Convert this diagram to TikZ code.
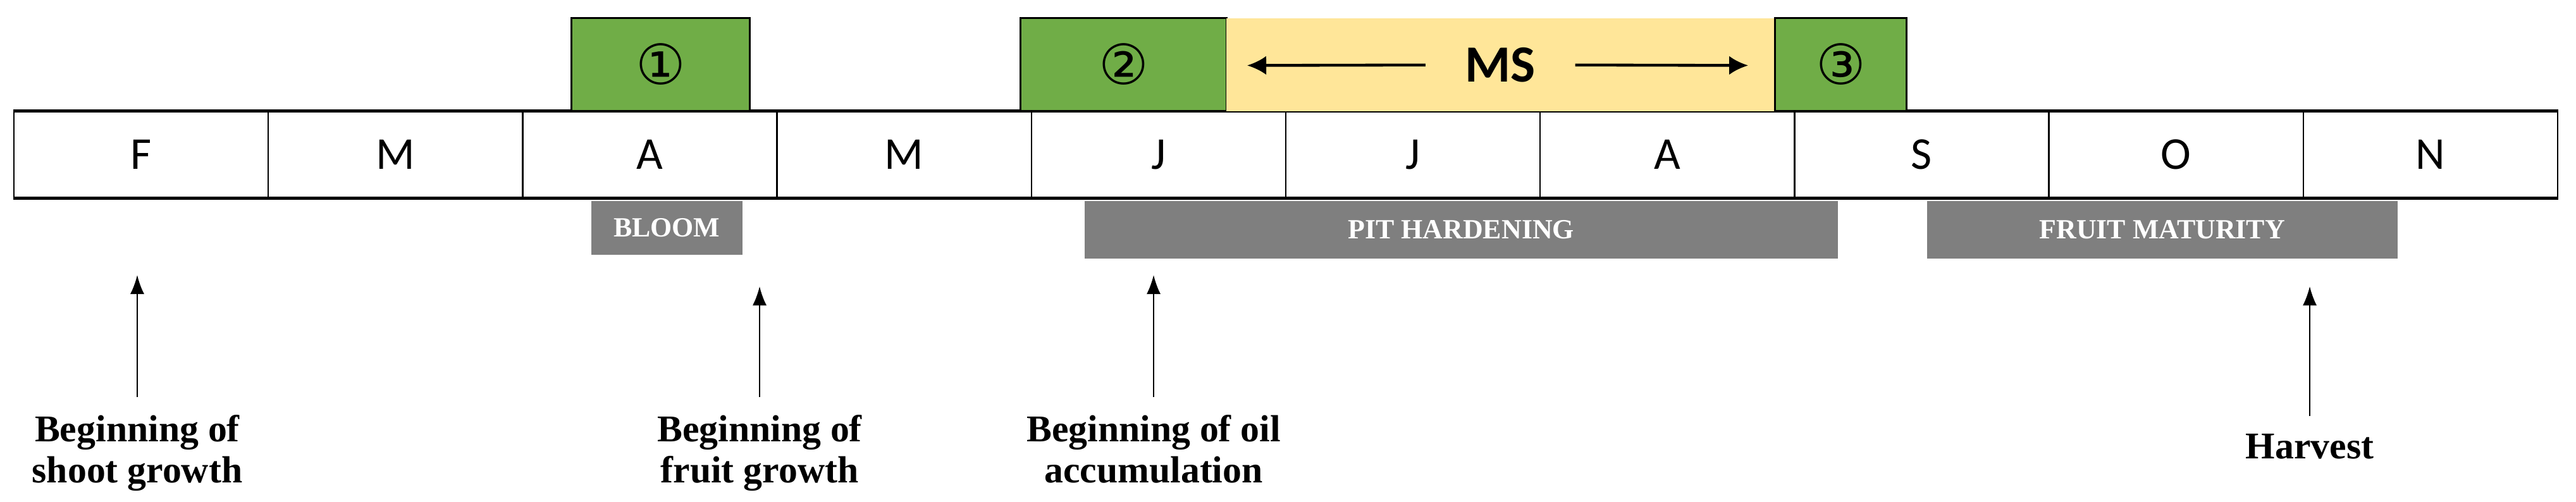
\documentclass[tikz,border=0pt]{standalone}
\usepackage{fontspec}
\setmainfont{Liberation Serif}
\setsansfont{Carlito}
\newfontfamily\circfont{DejaVu Sans}
\usepackage{xcolor}
\usepackage{tikz}
\usetikzlibrary{arrows.meta, positioning}

\definecolor{stagegreen}{HTML}{70AD47}
\definecolor{msyellow}{HTML}{FFE699}
\definecolor{phasegray}{HTML}{7F7F7F}

\begin{document}
\begin{tikzpicture}[
	month/.style={draw, line width=0.7pt, minimum width=4.022cm, minimum height=1.35cm, inner sep=0, font=\sffamily\fontsize{20.5}{24}\selectfont},
	stage/.style={draw, line width=0.9pt, fill=stagegreen, minimum height=1.47cm, anchor=south west, inner sep=0, font=\circfont\fontsize{25}{28}\selectfont},
	phase/.style={fill=phasegray, text=white, anchor=north west, inner sep=0, font=\bfseries\fontsize{12.5}{14}\selectfont},
	event/.style={anchor=north, align=center, inner xsep=0, inner ysep=0.28cm, font=\bfseries\fontsize{17}{18.5}\selectfont},
	upto/.style={line width=0.6pt, -{Latex[length=0.3cm, width=0.22cm]}}
	]
	\useasboundingbox (0,0) rectangle (40.73,7.93);
	
	% months
	\foreach \m [count=\i] in {F,M,A,M,J,J,A,S,O,N}
	\node[month] (m\i) at ({0.22+4.022*(\i-0.5)},5.485) {\m};
	\draw[line width=1.3pt] (m1.north west) -- (m10.north east);
	\draw[line width=1.3pt] (m1.south west) -- (m10.south east);
	
	% stages above
	\node[stage, minimum width=2.82cm] (s1) at (9.02,6.16) {①};
	\node[stage, minimum width=3.26cm] (s2) at (16.12,6.16) {②};
	\node[fill=msyellow, minimum width=8.67cm, minimum height=1.47cm, anchor=south west, inner sep=0] (band) at (19.38,6.16) {};
	\node[stage, minimum width=2.08cm] (s3) at (28.05,6.16) {③};
	\node[inner xsep=0.62cm, font=\sffamily\bfseries\fontsize{23.5}{26}\selectfont] (ms) at (band.center) {MS};
	\coordinate (msl) at (19.72,6.895);
	\coordinate (msr) at (27.64,6.895);
	\draw[line width=1.3pt, -{Latex[length=0.3cm, width=0.3cm]}] (ms.west) -- (msl);
	\draw[line width=1.3pt, -{Latex[length=0.3cm, width=0.3cm]}] (ms.east) -- (msr);
	
	% phases below
	\node[phase, minimum width=2.39cm, minimum height=0.85cm] (bloom) at (9.34,4.76) {BLOOM};
	\node[phase, minimum width=11.91cm, minimum height=0.91cm] (pit) at (17.14,4.76) {PIT HARDENING};
	\node[phase, minimum width=7.44cm, minimum height=0.91cm] (mat) at (30.46,4.76) {FRUIT MATURITY};
	
	% events
	\coordinate (t1) at (2.17,3.58);
	\coordinate (t2) at (12.01,3.40);
	\coordinate (t3) at (18.24,3.58);
	\coordinate (t4) at (36.52,3.40);
	\node[event] (e1) at (2.17,1.65) {Beginning of\\shoot growth};
	\node[event] (e2) at (12.01,1.65) {Beginning of\\fruit growth};
	\node[event] (e3) at (18.24,1.65) {Beginning of oil\\accumulation};
	\node[event] (e4) at (36.52,1.35) {Harvest};
	\draw[upto] (e1.north) -- (t1);
	\draw[upto] (e2.north) -- (t2);
	\draw[upto] (e3.north) -- (t3);
	\draw[upto] (e4.north) -- (t4);
\end{tikzpicture}
\end{document}
